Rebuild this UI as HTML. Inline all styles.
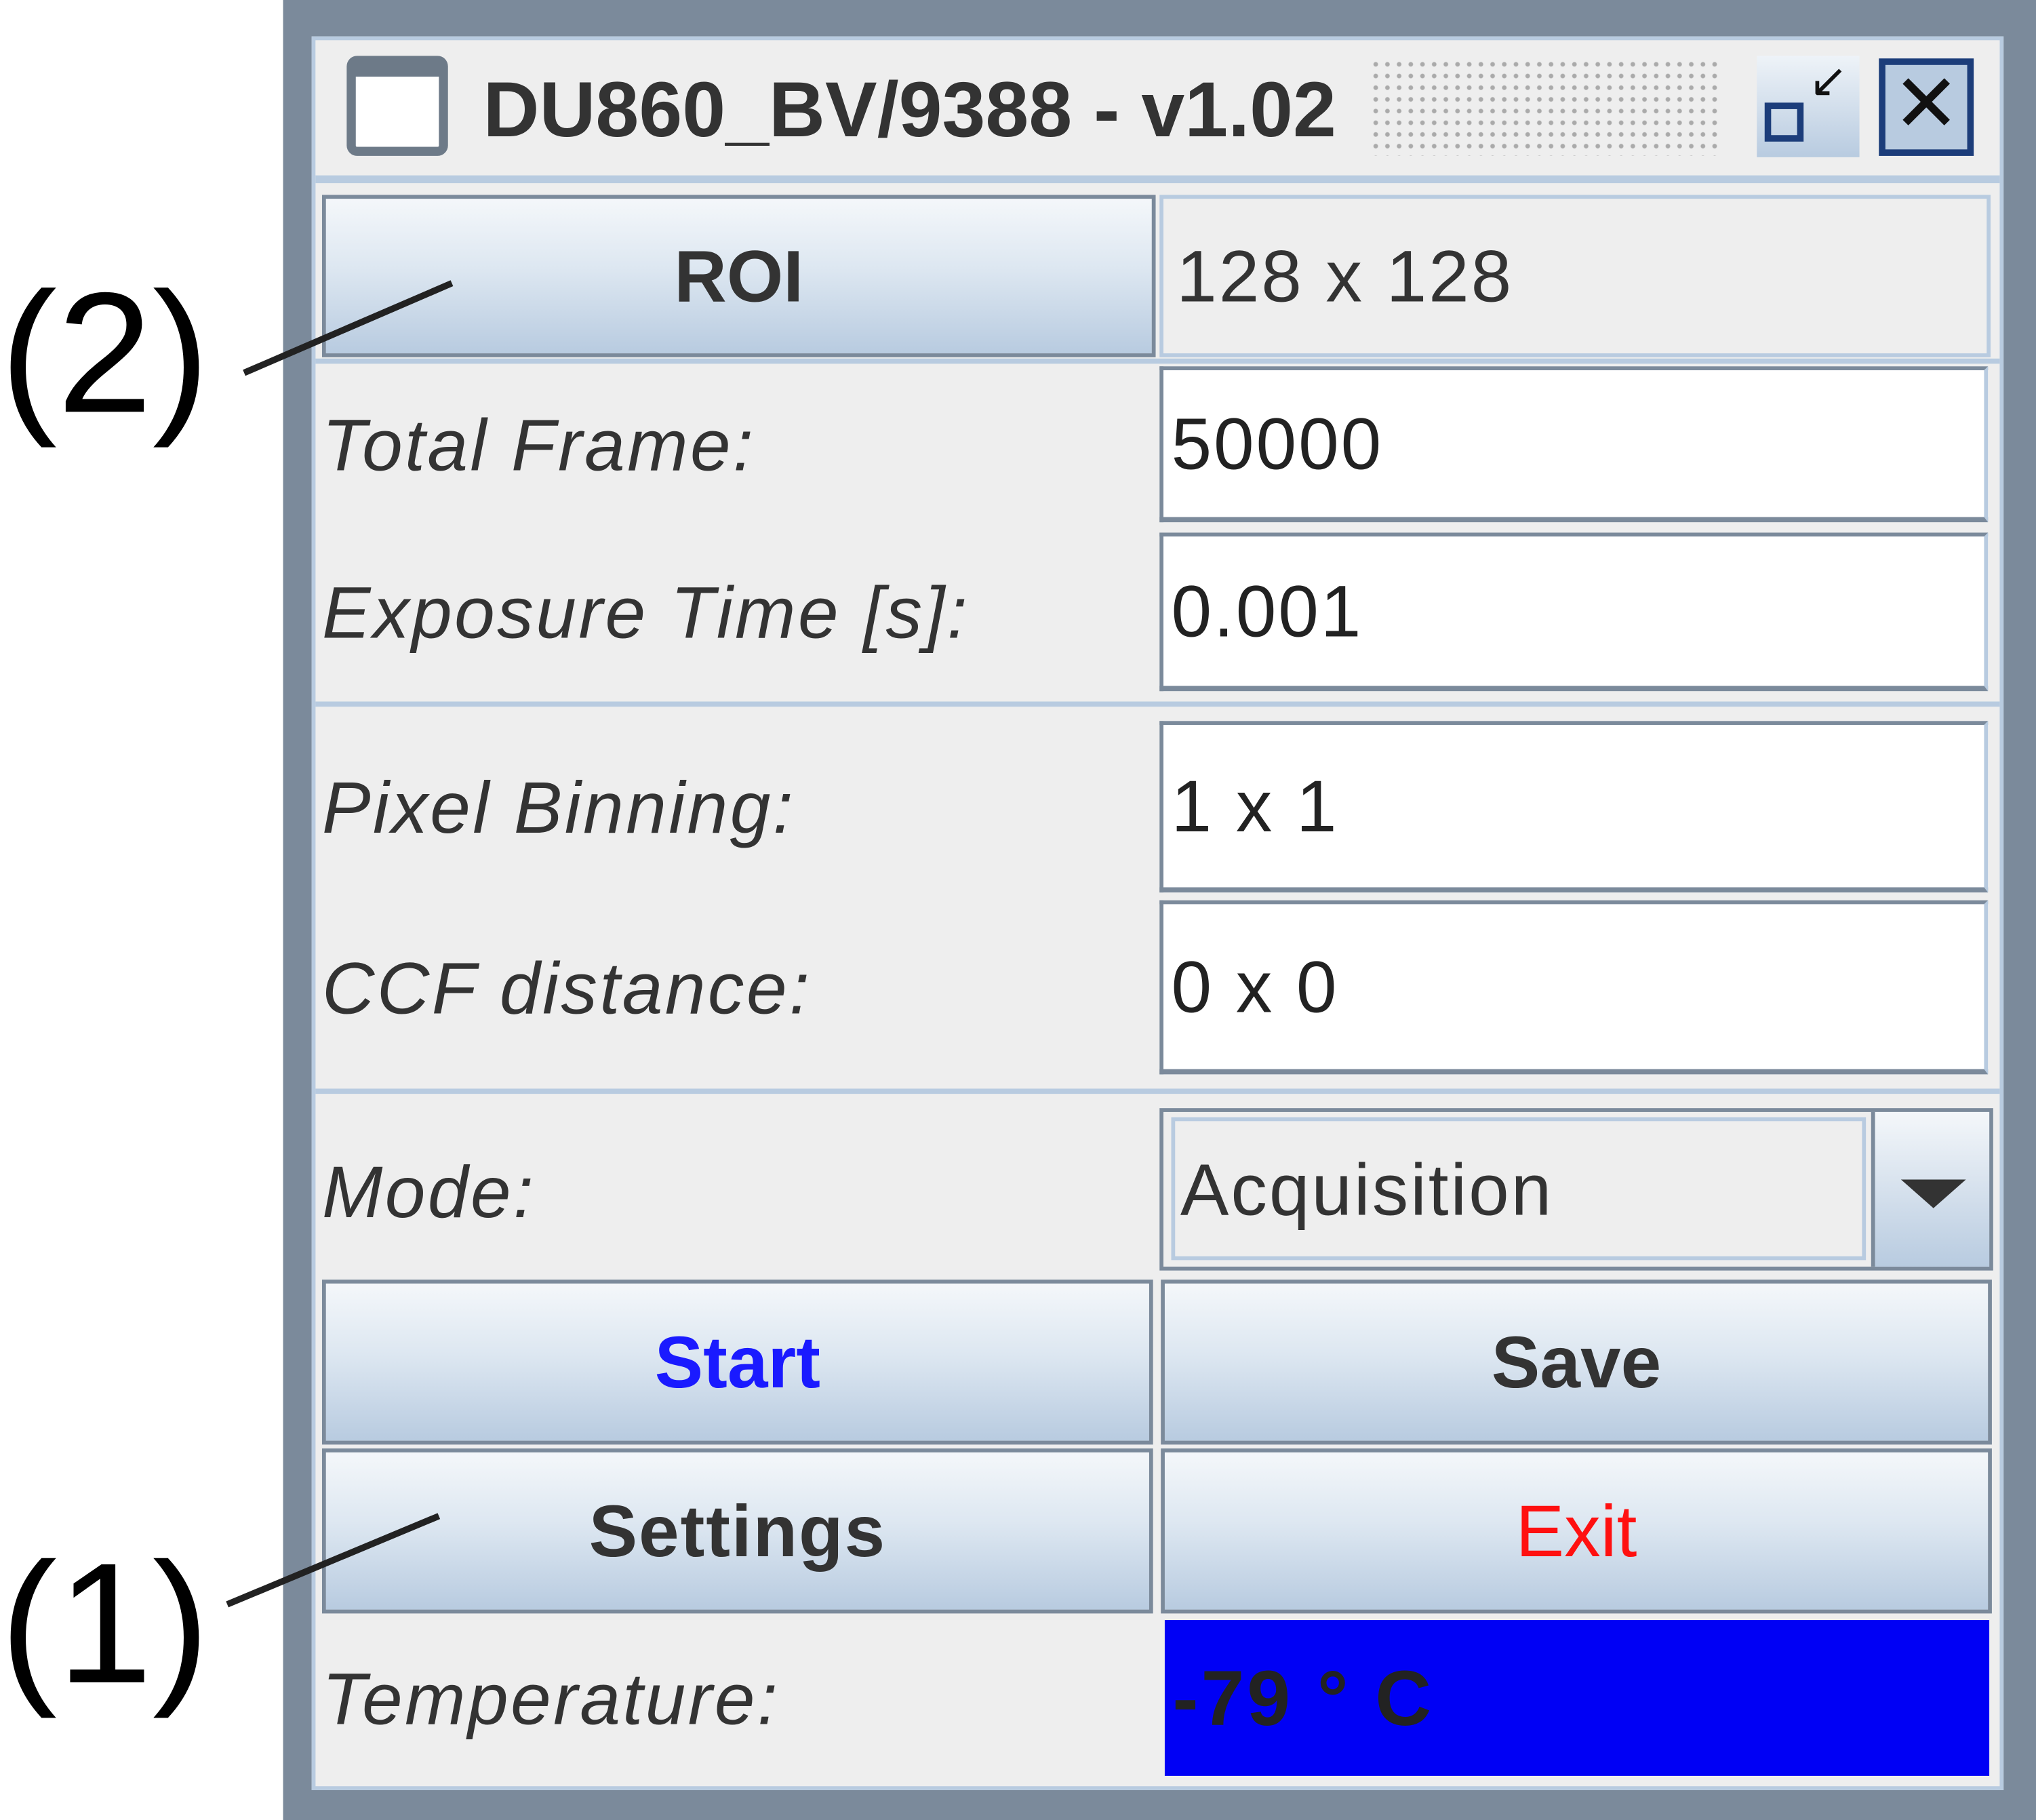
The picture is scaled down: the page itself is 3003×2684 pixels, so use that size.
<!DOCTYPE html>
<html><head><meta charset="utf-8"><style>
html,body{margin:0;padding:0;background:#fff;width:3003px;height:2684px;overflow:hidden}
#s{position:absolute;left:0;top:0;width:1568px;height:1401px;transform:scale(1.9152,1.9158);transform-origin:0 0;font-family:"Liberation Sans",sans-serif}
.a{position:absolute;box-sizing:border-box}
.btn{background:linear-gradient(#f4f7fa,#dde7f1 45%,#b8cbe0);border:3px solid #7b8a9b;display:flex;align-items:center;justify-content:center;font-weight:bold;font-size:56px;color:#333}
.fld{background:#fff;border-top:3px solid #7b8a9b;border-left:3px solid #7b8a9b;border-right:3px solid #b8cbe0;border-bottom:4px solid #7b8a9b;font-size:56px;color:#222;padding-left:6px;display:flex;align-items:center;letter-spacing:1.5px}
.lbl{font-style:italic;font-size:56px;color:#333;display:flex;align-items:center;padding-left:2px;letter-spacing:1.8px}
.sep{background:#b8cbe0;height:4px}
</style></head><body>
<div id="s">
<div class="a" style="left:0;top:202px;font-size:132px;line-height:140px">(2)</div>
<div class="a" style="left:0;top:1180px;font-size:132px;line-height:140px">(1)</div>
<div class="a" style="left:218px;top:0;width:1350px;height:1401px;background:#7b8a9b"></div>
<div class="a" style="left:240px;top:28px;width:1303px;height:1350px;background:#eeeeee;border:3px solid #b8cbe0"></div>
<div class="a" style="left:243px;top:31px;width:1297px;height:110px;background:#eeeeee;border-bottom:6px solid #b8cbe0"></div>
<div class="a" style="left:267px;top:43px;width:78px;height:77px;border:7px solid #6d7a88;border-radius:8px;background:#fff;border-top-width:16px"></div>
<div class="a" style="left:372px;top:50px;font-size:60px;font-weight:bold;color:#333;line-height:70px">DU860_BV/9388 - v1.02</div>
<div class="a" style="left:1055px;top:45px;width:270px;height:75px;background-image:radial-gradient(#aaa 1.5px,transparent 2px);background-size:9px 9px"></div>
<div class="a" style="left:1353px;top:43px;width:79px;height:78px;background:linear-gradient(#eef3f8,#b8cbe0)"><div class="a" style="left:6px;top:36px;width:30px;height:30px;border:5px solid #1c3d7a"></div><div class="a" style="left:40px;top:-2px;font-size:36px;color:#111">↙</div></div>
<div class="a" style="left:1447px;top:45px;width:73px;height:75px;border:5px solid #1c3d7a;background:#b8cbe0;font-size:62px;line-height:62px;text-align:center;color:#111">✕</div>

<div class="a btn" style="left:248px;top:150px;width:642px;height:125px">ROI</div>
<div class="a" style="left:893px;top:150px;width:640px;height:125px;background:#eeeeee;border:3px solid #b8cbe0;font-size:56px;color:#333;display:flex;align-items:center;padding-left:10px;letter-spacing:1.5px">128 x 128</div>
<div class="a sep" style="left:243px;top:276px;width:1297px;height:4px"></div>

<div class="a lbl" style="left:246px;top:282px;width:640px;height:120px">Total Frame:</div>
<div class="a fld" style="left:893px;top:282px;width:638px;height:120px">50000</div>
<div class="a lbl" style="left:246px;top:410px;width:640px;height:122px">Exposure Time [s]:</div>
<div class="a fld" style="left:893px;top:410px;width:638px;height:122px">0.001</div>
<div class="a sep" style="left:243px;top:540px;width:1297px"></div>

<div class="a lbl" style="left:246px;top:555px;width:640px;height:132px">Pixel Binning:</div>
<div class="a fld" style="left:893px;top:555px;width:638px;height:132px">1 x 1</div>
<div class="a lbl" style="left:246px;top:693px;width:640px;height:134px">CCF distance:</div>
<div class="a fld" style="left:893px;top:693px;width:638px;height:134px">0 x 0</div>
<div class="a sep" style="left:243px;top:838px;width:1297px"></div>

<div class="a lbl" style="left:246px;top:855px;width:640px;height:125px">Mode:</div>
<div class="a" style="left:893px;top:853px;width:642px;height:125px;border:3px solid #7b8a9b;background:#eeeeee">
<div class="a" style="left:6px;top:4px;width:535px;height:110px;border:3px solid #b8cbe0;font-size:56px;color:#333;display:flex;align-items:center;padding-left:4px;letter-spacing:1.5px">Acquisition</div>
<div class="a" style="left:545px;top:0;width:91px;height:119px;background:linear-gradient(#f4f7fa,#b8cbe0);border-left:3px solid #7b8a9b"><div class="a" style="left:20px;top:52px;width:0;height:0;border-left:25px solid transparent;border-right:25px solid transparent;border-top:22px solid #333"></div></div>
</div>

<div class="a btn" style="left:248px;top:985px;width:640px;height:127px;color:#1a1aff">Start</div>
<div class="a btn" style="left:894px;top:985px;width:640px;height:127px">Save</div>
<div class="a btn" style="left:248px;top:1115px;width:640px;height:127px;letter-spacing:1px">Settings</div>
<div class="a btn" style="left:894px;top:1115px;width:640px;height:127px;color:#ff1010;font-weight:normal">Exit</div>

<div class="a lbl" style="left:246px;top:1245px;width:640px;height:125px">Temperature:</div>
<div class="a" style="left:897px;top:1247px;width:635px;height:120px;background:#0000f5;color:#222;font-size:60px;font-weight:bold;display:flex;align-items:center;padding-left:6px;letter-spacing:2px">-79 ° C</div>
<svg class="a" style="left:0;top:0" width="1568" height="1401">
<line x1="188" y1="287" x2="348" y2="218" stroke="#222" stroke-width="5"/>
<line x1="175" y1="1235" x2="338" y2="1167" stroke="#222" stroke-width="5"/>
</svg>
</div>
</body></html>
